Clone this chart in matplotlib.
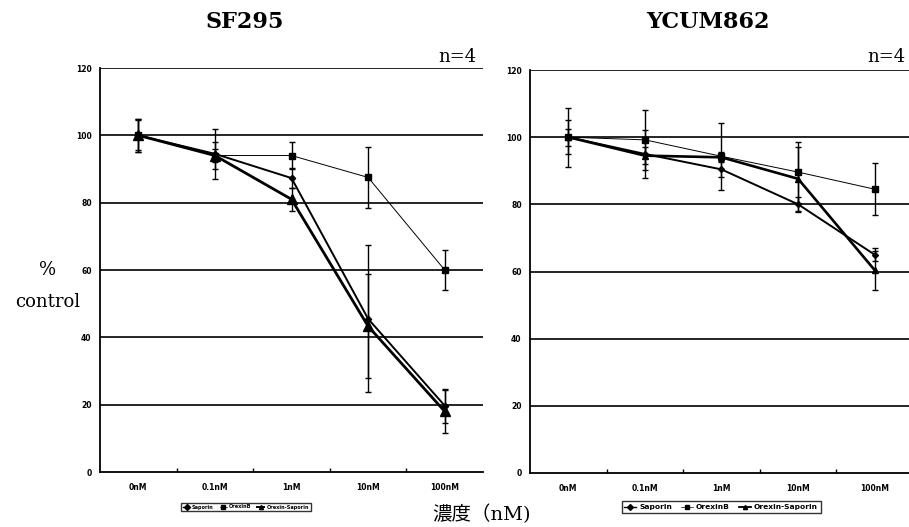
import matplotlib
matplotlib.use("Agg")
import matplotlib.pyplot as plt
from matplotlib.lines import Line2D

categories = ["0nM", "0.1nM", "1nM", "10nM", "100nM"]
series_names = ["Saporin", "OrexinB", "Orexin-Saporin"]

# SF295
sf_saporin = [100, 94.5, 87.3, 45.5, 19.7]
sf_saporin_err = [5, 7.5, 3, 21.8, 5]
sf_orexinb = [100, 94, 94, 87.5, 60]
sf_orexinb_err = [4.5, 4, 4, 9, 5.8]
sf_oxsap = [100, 94, 81, 43.3, 18]
sf_oxsap_err = [5, 2, 3.5, 15.5, 6.5]

# YCUM862
yc_saporin = [100, 95, 90.4, 80, 65]
yc_saporin_err = [5.1, 7.1, 2.4, 2.2, 2]
yc_orexinb = [100, 99.2, 94.3, 89.6, 84.5]
yc_orexinb_err = [8.8, 8.9, 10, 9.1, 7.7]
yc_oxsap = [100, 94.5, 94, 87.6, 60.4]
yc_oxsap_err = [2.5, 2.5, 1.5, 9.5, 5.8]

yticks = [0, 20, 40, 60, 80, 100, 120]

W, H = 909, 527
fig = plt.figure(figsize=(W / 100, H / 100), dpi=100)

styles_left = [
    dict(marker="D", ms=3.2, lw=1.4),   # Saporin
    dict(marker="s", ms=4.0, lw=0.7),   # OrexinB
    dict(marker="^", ms=6.5, lw=2.0),   # Orexin-Saporin
]
styles_right = [
    dict(marker="D", ms=3.0, lw=1.4),
    dict(marker="s", ms=4.0, lw=0.7),
    dict(marker="^", ms=4.2, lw=1.9),
]


def px_axes(x0, x1, ytop, ybot):
    return fig.add_axes([x0 / W, 1 - ybot / H, (x1 - x0) / W, (ybot - ytop) / H])


def draw_panel(ax, data, styles, title, title_x):
    x = list(range(len(categories)))
    for (vals, errs), st in zip(data, styles):
        ax.errorbar(x, vals, yerr=errs, color="black", ecolor="black",
                    elinewidth=1.0, capsize=2.2, capthick=1.0,
                    marker=st["marker"], ms=st["ms"], lw=st["lw"],
                    mfc="black", mec="black", zorder=3)
    ax.set_xlim(-0.5, len(categories) - 0.5)
    ax.set_ylim(0, 120)
    ax.set_yticks(yticks)
    ax.set_yticklabels([str(v) for v in yticks], fontsize=5.5,
                       fontweight="bold", family="DejaVu Sans")
    for v in yticks[1:]:
        ax.axhline(v, color="black", lw=1.2, zorder=1)
    ax.set_xticks(x)
    ax.set_xticklabels(categories, fontsize=5.5, fontweight="bold",
                       family="DejaVu Sans")
    ax.set_xticks([i + 0.5 for i in x[:-1]], minor=True)
    ax.tick_params(axis="x", which="major", length=0, pad=8)
    ax.tick_params(axis="x", which="minor", direction="in", length=3,
                   width=1.0)
    ax.tick_params(axis="y", length=0, pad=6)
    for s in ["top", "right"]:
        ax.spines[s].set_visible(False)
    ax.spines["left"].set_linewidth(1.3)
    ax.spines["bottom"].set_linewidth(1.3)
    fig.text(title_x / W, 1 - 22 / H, title, ha="center", va="center",
             fontsize=16, fontweight="bold", family="DejaVu Serif")


ax1 = px_axes(100, 483, 68, 472)
draw_panel(ax1, [(sf_saporin, sf_saporin_err), (sf_orexinb, sf_orexinb_err),
                 (sf_oxsap, sf_oxsap_err)], styles_left, "SF295", 245)
ax2 = px_axes(530, 913, 70, 473)
draw_panel(ax2, [(yc_saporin, yc_saporin_err), (yc_orexinb, yc_orexinb_err),
                 (yc_oxsap, yc_oxsap_err)], styles_right, "YCUM862", 708)

fig.text(476 / W, 1 - 57 / H, "n=4", ha="right", va="center", fontsize=13,
         family="DejaVu Serif")
fig.text(905 / W, 1 - 57 / H, "n=4", ha="right", va="center", fontsize=13,
         family="DejaVu Serif")

fig.text(48 / W, 1 - 270 / H, "%", ha="center", va="center", fontsize=13,
         family="DejaVu Serif")
fig.text(48 / W, 1 - 302 / H, "control", ha="center", va="center",
         fontsize=13, family="DejaVu Serif")

fig.text(482 / W, 1 - 514 / H, "濃度（nM)", ha="center", va="center",
         fontsize=14, family=["DejaVu Serif", "Noto Sans CJK JP"])

for cx, fs, hl, styles in [(246, 3.6, 1.4, styles_left),
                           (721, 5.4, 1.6, styles_right)]:
    handles = [Line2D([], [], color="black", marker=st["marker"],
                      ms=3.0, lw=st["lw"] * 0.7, mfc="black")
               for st in styles]
    leg = fig.legend(handles, series_names, loc="center",
                     bbox_to_anchor=(cx / W, 1 - 507 / H), ncol=3,
                     fontsize=fs, frameon=True, fancybox=False,
                     edgecolor="black", handlelength=hl, handletextpad=0.4,
                     columnspacing=1.2, borderpad=0.35)
    leg.get_frame().set_linewidth(1.0)
    for t in leg.get_texts():
        t.set_fontweight("bold")

fig.savefig("out.png", dpi=100)
